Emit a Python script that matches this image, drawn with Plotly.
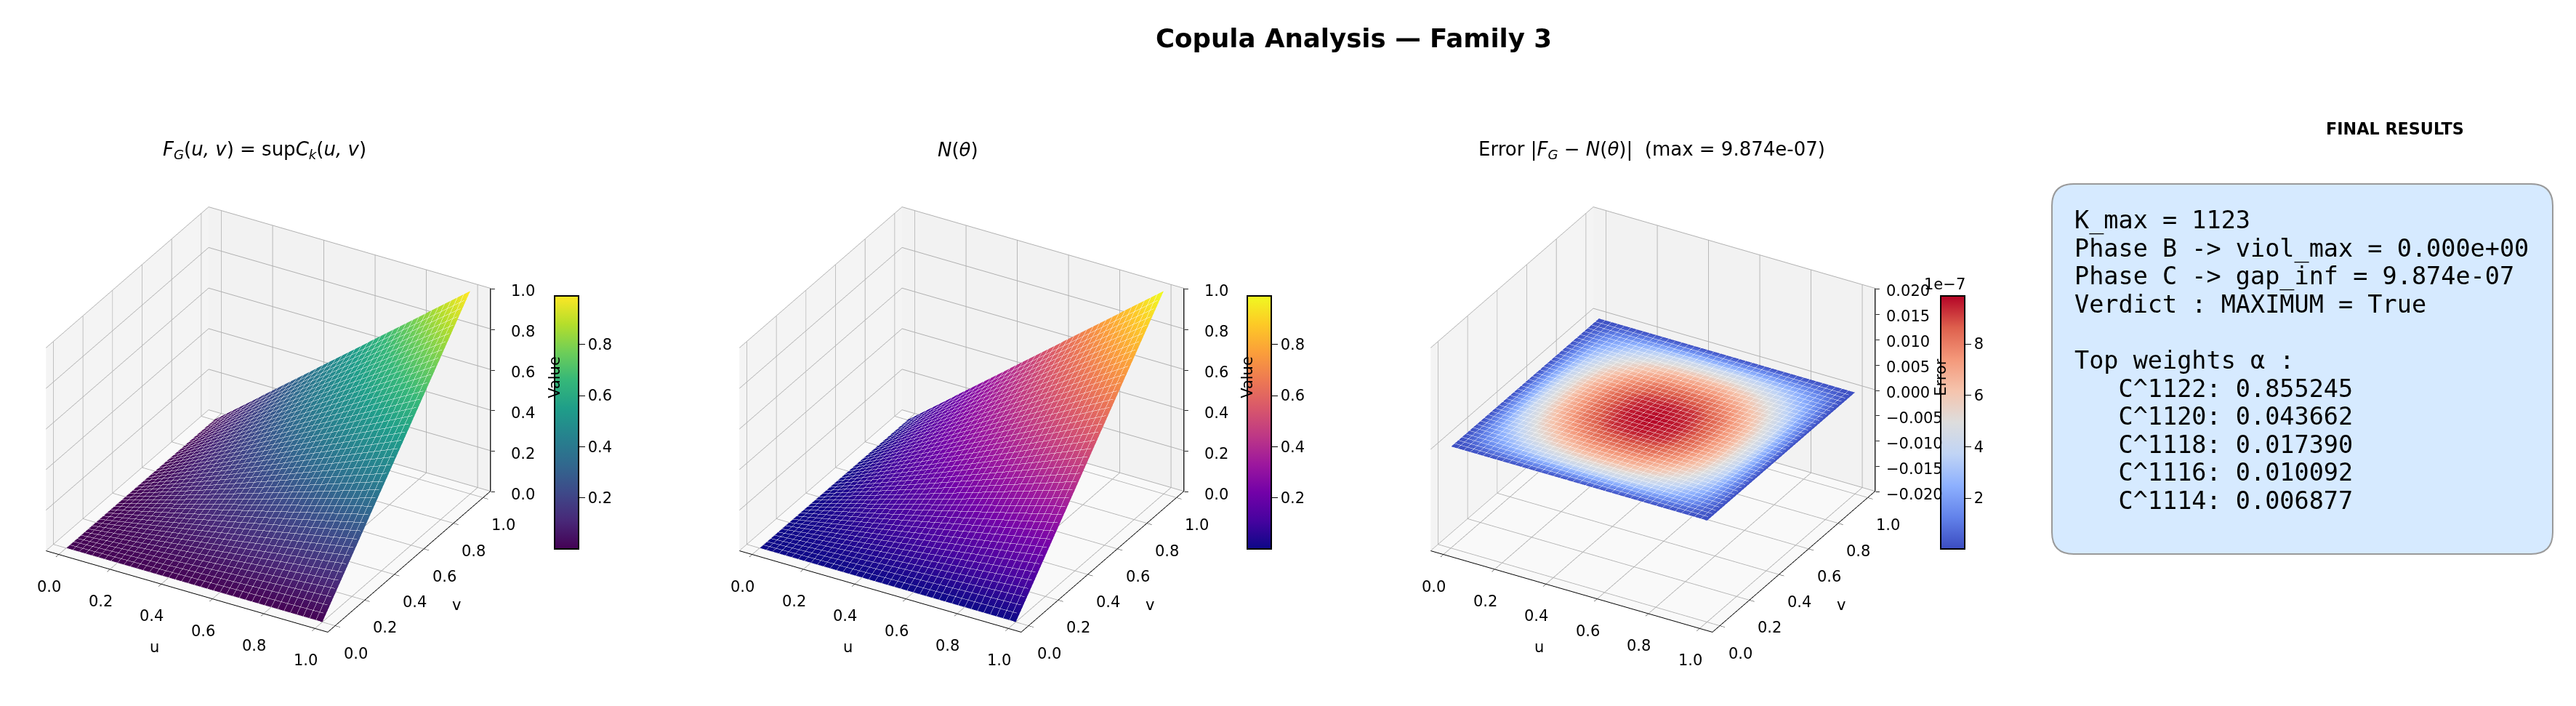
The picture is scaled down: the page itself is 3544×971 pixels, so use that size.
import numpy as np
import plotly.graph_objects as go

W, H = 3544, 971
u_values = [0.0, 0.1, 0.2, 0.3, 0.4, 0.5, 0.6, 0.7, 0.8, 0.9, 1.0]
v_values = [0.0, 0.1, 0.2, 0.3, 0.4, 0.5, 0.6, 0.7, 0.8, 0.9, 1.0]
F_values = [
    [0.00, 0.00, 0.00, 0.00, 0.00, 0.00, 0.00, 0.00, 0.00, 0.00, 0.00],
    [0.00, 0.01, 0.02, 0.03, 0.04, 0.05, 0.06, 0.07, 0.08, 0.09, 0.10],
    [0.00, 0.02, 0.04, 0.06, 0.08, 0.10, 0.12, 0.14, 0.16, 0.18, 0.20],
    [0.00, 0.03, 0.06, 0.09, 0.12, 0.15, 0.18, 0.21, 0.24, 0.27, 0.30],
    [0.00, 0.04, 0.08, 0.12, 0.16, 0.20, 0.24, 0.28, 0.32, 0.36, 0.40],
    [0.00, 0.05, 0.10, 0.15, 0.20, 0.25, 0.30, 0.35, 0.40, 0.45, 0.50],
    [0.00, 0.06, 0.12, 0.18, 0.24, 0.30, 0.36, 0.42, 0.48, 0.54, 0.60],
    [0.00, 0.07, 0.14, 0.21, 0.28, 0.35, 0.42, 0.49, 0.56, 0.63, 0.70],
    [0.00, 0.08, 0.16, 0.24, 0.32, 0.40, 0.48, 0.56, 0.64, 0.72, 0.80],
    [0.00, 0.09, 0.18, 0.27, 0.36, 0.45, 0.54, 0.63, 0.72, 0.81, 0.90],
    [0.00, 0.10, 0.20, 0.30, 0.40, 0.50, 0.60, 0.70, 0.80, 0.90, 1.00],
]
N_values = [
    [0.00, 0.00, 0.00, 0.00, 0.00, 0.00, 0.00, 0.00, 0.00, 0.00, 0.00],
    [0.00, 0.01, 0.02, 0.03, 0.04, 0.05, 0.06, 0.07, 0.08, 0.09, 0.10],
    [0.00, 0.02, 0.04, 0.06, 0.08, 0.10, 0.12, 0.14, 0.16, 0.18, 0.20],
    [0.00, 0.03, 0.06, 0.09, 0.12, 0.15, 0.18, 0.21, 0.24, 0.27, 0.30],
    [0.00, 0.04, 0.08, 0.12, 0.16, 0.20, 0.24, 0.28, 0.32, 0.36, 0.40],
    [0.00, 0.05, 0.10, 0.15, 0.20, 0.25, 0.30, 0.35, 0.40, 0.45, 0.50],
    [0.00, 0.06, 0.12, 0.18, 0.24, 0.30, 0.36, 0.42, 0.48, 0.54, 0.60],
    [0.00, 0.07, 0.14, 0.21, 0.28, 0.35, 0.42, 0.49, 0.56, 0.63, 0.70],
    [0.00, 0.08, 0.16, 0.24, 0.32, 0.40, 0.48, 0.56, 0.64, 0.72, 0.80],
    [0.00, 0.09, 0.18, 0.27, 0.36, 0.45, 0.54, 0.63, 0.72, 0.81, 0.90],
    [0.00, 0.10, 0.20, 0.30, 0.40, 0.50, 0.60, 0.70, 0.80, 0.90, 1.00],
]
# error surface, in units of 1e-7
E_values = [
    [0.10, 0.10, 0.10, 0.10, 0.10, 0.10, 0.10, 0.10, 0.10, 0.10, 0.10],
    [0.10, 1.74, 2.82, 3.57, 4.03, 4.15, 4.03, 3.57, 2.82, 1.74, 0.10],
    [0.10, 2.82, 4.56, 5.77, 6.51, 6.71, 6.51, 5.77, 4.56, 2.82, 0.10],
    [0.10, 3.57, 5.77, 7.30, 8.24, 8.49, 8.24, 7.30, 5.77, 3.57, 0.10],
    [0.10, 4.03, 6.51, 8.24, 9.29, 9.57, 9.29, 8.24, 6.51, 4.03, 0.10],
    [0.10, 4.15, 6.71, 8.49, 9.57, 9.87, 9.57, 8.49, 6.71, 4.15, 0.10],
    [0.10, 4.03, 6.51, 8.24, 9.29, 9.57, 9.29, 8.24, 6.51, 4.03, 0.10],
    [0.10, 3.57, 5.77, 7.30, 8.24, 8.49, 8.24, 7.30, 5.77, 3.57, 0.10],
    [0.10, 2.82, 4.56, 5.77, 6.51, 6.71, 6.51, 5.77, 4.56, 2.82, 0.10],
    [0.10, 1.74, 2.82, 3.57, 4.03, 4.15, 4.03, 3.57, 2.82, 1.74, 0.10],
    [0.10, 0.10, 0.10, 0.10, 0.10, 0.10, 0.10, 0.10, 0.10, 0.10, 0.10],
]
uv_ticks = [0.0, 0.2, 0.4, 0.6, 0.8, 1.0]
z_ticks_ab = [0.0, 0.2, 0.4, 0.6, 0.8, 1.0]
z_ticks_err = [-0.020, -0.015, -0.010, -0.005, 0.000, 0.005, 0.010, 0.015, 0.020]
cb_ticks_ab = [0.2, 0.4, 0.6, 0.8]
cb_ticks_err = [2, 4, 6, 8]
result_lines = [
    "K_max = 1123",
    "Phase B -> viol_max = 0.000e+00",
    "Phase C -> gap_inf = 9.874e-07",
    "Verdict : MAXIMUM = True",
    "",
    "Top weights α :",
    "   C^1122: 0.855245",
    "   C^1120: 0.043662",
    "   C^1118: 0.017390",
    "   C^1116: 0.010092",
    "   C^1114: 0.006877",
]
coolwarm = [[0, "#3b4cc0"], [0.125, "#6282ea"], [0.25, "#8db0fe"], [0.375, "#c0d4f5"], [0.5, "#dddddd"],
            [0.625, "#f5c4ad"], [0.75, "#f4987a"], [0.875, "#de604d"], [1, "#b40426"]]

FONT = "DejaVu Sans"
OFF = 8  # page body margin
px = lambda x: (x - OFF) / W
py = lambda y: 1 - (y - OFF) / H
EYE = 2.6
cam = dict(eye=dict(x=0.433 * EYE, y=-0.75 * EYE, z=0.5 * EYE), center=dict(x=0, y=0, z=0),
           projection=dict(type="orthographic"))
XR = [-0.05, 1.05]
TICK = 21
SCALE = 1.178


def axis(rng, bg, is_z=False):
    return dict(title=dict(text=""), showticklabels=False, range=rng, autorange=False,
                backgroundcolor=bg, showbackground=True, gridcolor="#b0b0b0", gridwidth=2,
                showline=not is_z, linecolor="black", linewidth=2, ticks="" if is_z else "outside",
                tickcolor="black", ticklen=8, zeroline=False, showspikes=False)


def lab(x, y, z, s, dx, dy, anchor="center", size=TICK):
    return dict(x=x, y=y, z=z, text=s, showarrow=False, xshift=dx, yshift=-dy, xanchor=anchor,
                yanchor="middle", font=dict(size=size, family=FONT, color="black"))


panels = [
    dict(z=np.array(F_values), c=np.array(F_values), cs="Viridis", cmin=0.0, cmax=0.99, cx=362, cbx=763,
         zv=z_ticks_ab, zr=[0, 1], zf="{:.1f}", zt="Value", cbt=cb_ticks_ab, cbf=".1f", zdx=26),
    dict(z=np.array(N_values), c=np.array(N_values), cs="Plasma", cmin=0.0, cmax=0.99, cx=1316, cbx=1716,
         zv=z_ticks_ab, zr=[0, 1], zf="{:.1f}", zt="Value", cbt=cb_ticks_ab, cbf=".1f", zdx=26),
    dict(z=np.array(E_values) * 1e-7, c=np.array(E_values), cs=coolwarm, cmin=0.02, cmax=9.87, cx=2267, cbx=2670,
         zv=z_ticks_err, zr=[-0.02, 0.02], zf="{:.3f}", zt="Error", cbt=cb_ticks_err, cbf="d", zdx=13),
]
fig = go.Figure()
grid = dict(show=True, start=0, end=1, size=0.025, color="rgba(255,255,255,0.25)", width=1)
layout = {}
ann = []


def text(x, y, s, size, family=FONT, anchor="center", angle=0, **kw):
    ann.append(dict(x=px(x), y=py(y), xref="paper", yref="paper", text=s, showarrow=False, xanchor=anchor,
                    yanchor="middle", textangle=angle, font=dict(size=size, family=family, color="black"), **kw))


for i, p in enumerate(panels):
    sid = f"scene{i + 1 if i else ''}"
    fig.add_trace(go.Surface(
        x=u_values, y=v_values, z=p["z"], surfacecolor=p["c"], colorscale=p["cs"],
        cmin=p["cmin"], cmax=p["cmax"], scene=sid, opacity=0.995,
        lighting=dict(ambient=1, diffuse=0, specular=0, roughness=1, fresnel=0),
        contours=dict(x=grid, y=grid),
        colorbar=dict(x=px(p["cbx"]), xanchor="left", y=py(581), yanchor="middle", lenmode="pixels",
                      len=348, thicknessmode="pixels", thickness=33, xpad=0, ypad=0,
                      outlinecolor="black", outlinewidth=2,
                      ticks="outside", ticklen=8, tickcolor="black", tickvals=p["cbt"], tickformat=p["cbf"],
                      tickfont=dict(size=TICK, color="black", family=FONT)),
    ))
    zr = p["zr"]
    fig.add_trace(go.Scatter3d(x=[XR[1], XR[1]], y=[XR[1], XR[1]], z=zr, mode="lines", scene=sid,
                               line=dict(color="black", width=2.5), showlegend=False, hoverinfo="skip"))
    notes = []
    for t in uv_ticks:
        notes.append(lab(t, XR[0], zr[0], f"{t:.1f}", -13, 44))
        notes.append(lab(XR[1], t, zr[0], f"{t:.1f}", 28, 38))
    for t in p["zv"]:
        notes.append(lab(XR[1], XR[1], t, p["zf"].format(t).replace("-", "\u2212"), p["zdx"], 4, "left"))
        notes.append(lab(XR[1], XR[1], t, "–", 4, 0, size=13))
    notes.append(lab(0.5, XR[0], zr[0], "u", -45, 77))
    notes.append(lab(XR[1], 0.5, zr[0], "v", 65, 59))
    layout[sid] = dict(
        domain=dict(x=[px(p["cx"] - 343), px(p["cx"] + 357)], y=[py(957), py(197)]),
        camera=cam, aspectmode="manual", aspectratio=dict(x=SCALE, y=SCALE, z=0.72 * SCALE),
        xaxis=axis(XR, "#f4f4f4"), yaxis=axis(XR, "#f2f2f2"), zaxis=axis(zr, "#f9f9f9", True),
        annotations=notes,
    )
    text(p["cbx"] - 6, 519, p["zt"], 21, angle=-90, width=70, height=12, valign="top")

text(1862, 52, "<b>Copula Analysis — Family 3</b>", 35.6)
text(364, 206, "<i>F<sub>G</sub></i>(<i>u, v</i>) = sup<i>C<sub>k</sub></i>(<i>u, v</i>)", 26)
text(1318, 206, "<i>N</i>(<i>θ</i>)", 26)
text(2272, 206, "Error |<i>F<sub>G</sub></i> − <i>N</i>(<i>θ</i>)|  (max = 9.874e-07)", 26)
text(3295, 177, "<b>FINAL RESULTS</b>", 22.3)
text(2675, 391, "1e−7", 21)
for k, line in enumerate(result_lines):
    if line:
        text(2852, 303 + k * 38.5, line.replace(" ", "\u00a0"), 33.5, "DejaVu Sans Mono", "left")

x0, x1, y0, y1, r = px(2823), px(3512), py(253), py(762), 30
rx, ry = r / W, r / H
path = (f"M {x0 + rx} {y0} L {x1 - rx} {y0} Q {x1} {y0} {x1} {y0 - ry} L {x1} {y1 + ry} Q {x1} {y1} {x1 - rx} {y1} "
        f"L {x0 + rx} {y1} Q {x0} {y1} {x0} {y1 + ry} L {x0} {y0 - ry} Q {x0} {y0} {x0 + rx} {y0} Z")
fig.update_layout(
    width=W, height=H, margin=dict(l=0, r=0, t=0, b=0), paper_bgcolor="white",
    font=dict(family=FONT, color="black"), annotations=ann,
    shapes=[dict(type="path", path=path, xref="paper", yref="paper", fillcolor="#d6eaff",
                 line=dict(color="#9a9a9a", width=2), layer="below")],
    **layout,
)
fig.write_html("out.html", config=dict(displayModeBar=False))
